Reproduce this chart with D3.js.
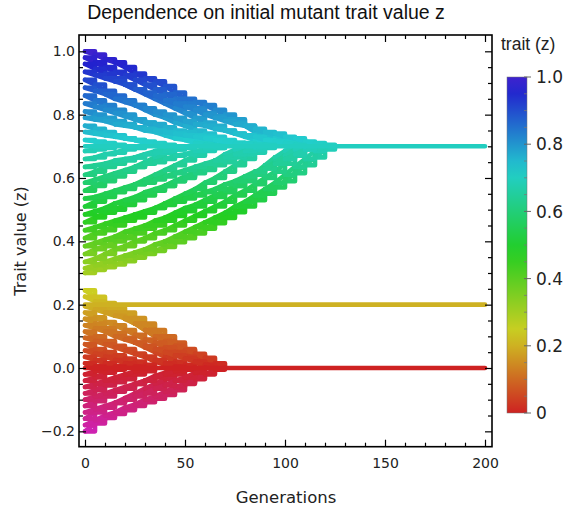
<!DOCTYPE html>
<html><head><meta charset="utf-8">
<script src="https://cdn.jsdelivr.net/npm/d3@7"></script>
<style>body{margin:0;background:#fff}</style>
</head><body>
<svg id="c" width="566" height="511"></svg>
<script>
// ---------------- data ----------------
const generations = [0,5,10,15,20,25,30,35,40,45,50,55,60,65,70,75,80,85,90,95,100,105,110,115,120,125];

// trajectories converging down onto 0.7
const upperTracks = [
 [1.00,0.99,0.975,0.965,0.95,0.93,0.915,0.905,0.89,0.87,0.85,0.84,0.83,0.815,0.80,0.785,0.765,0.745,0.725,0.71,0.70],
 [0.98,0.965,0.95,0.935,0.925,0.91,0.895,0.88,0.865,0.85,0.835,0.82,0.805,0.795,0.785,0.775,0.765,0.75,0.74,0.73,0.72,0.71,0.70],
 [0.96,0.945,0.93,0.915,0.895,0.88,0.865,0.85,0.835,0.82,0.805,0.79,0.775,0.765,0.75,0.74,0.73,0.72,0.71,0.70],
 [0.935,0.925,0.915,0.905,0.895,0.88,0.87,0.86,0.845,0.835,0.825,0.815,0.80,0.79,0.78,0.77,0.765,0.755,0.745,0.74,0.73,0.725,0.715,0.71,0.705,0.70],
 [0.91,0.895,0.875,0.86,0.845,0.83,0.815,0.80,0.79,0.775,0.765,0.75,0.74,0.73,0.72,0.71,0.705,0.70],
 [0.885,0.875,0.865,0.85,0.84,0.83,0.82,0.81,0.80,0.79,0.78,0.77,0.765,0.755,0.75,0.74,0.735,0.73,0.72,0.715,0.71,0.705,0.70],
 [0.86,0.845,0.83,0.815,0.80,0.785,0.775,0.76,0.75,0.74,0.73,0.72,0.71,0.705,0.70],
 [0.835,0.825,0.815,0.805,0.795,0.785,0.775,0.77,0.76,0.75,0.745,0.735,0.73,0.72,0.715,0.71,0.705,0.70],
 [0.81,0.80,0.79,0.78,0.77,0.76,0.75,0.745,0.735,0.725,0.72,0.71,0.705,0.70],
 [0.79,0.785,0.78,0.77,0.765,0.76,0.755,0.75,0.745,0.74,0.735,0.73,0.725,0.72,0.715,0.71,0.71,0.705,0.705,0.70],
 [0.765,0.755,0.745,0.735,0.725,0.72,0.71,0.705,0.70],
 [0.745,0.74,0.735,0.73,0.725,0.72,0.715,0.71,0.705,0.70,0.70],
 [0.72,0.715,0.71,0.705,0.70,0.70]
];

// trajectories rising onto 0.7
const middleTracks = [
 [0.30,0.31,0.318,0.327,0.337,0.348,0.36,0.37,0.382,0.397,0.41,0.425,0.44,0.457,0.474,0.492,0.51,0.53,0.55,0.57,0.59,0.615,0.64,0.665,0.69,0.70],
 [0.315,0.325,0.335,0.345,0.355,0.365,0.375,0.39,0.40,0.415,0.43,0.445,0.46,0.475,0.49,0.51,0.525,0.545,0.565,0.585,0.61,0.635,0.66,0.685,0.70],
 [0.335,0.345,0.36,0.375,0.385,0.40,0.41,0.425,0.435,0.45,0.465,0.48,0.495,0.51,0.525,0.545,0.56,0.58,0.60,0.62,0.645,0.67,0.69,0.70],
 [0.36,0.375,0.385,0.40,0.41,0.425,0.44,0.45,0.465,0.48,0.495,0.51,0.525,0.54,0.555,0.575,0.595,0.615,0.64,0.665,0.685,0.70],
 [0.385,0.395,0.405,0.415,0.43,0.44,0.45,0.465,0.475,0.49,0.505,0.515,0.53,0.545,0.56,0.575,0.59,0.61,0.63,0.65,0.67,0.69,0.70],
 [0.41,0.425,0.435,0.45,0.465,0.475,0.49,0.505,0.52,0.535,0.55,0.565,0.585,0.60,0.62,0.64,0.66,0.68,0.695,0.70],
 [0.435,0.445,0.455,0.465,0.475,0.485,0.495,0.505,0.515,0.525,0.535,0.545,0.555,0.565,0.58,0.59,0.605,0.62,0.63,0.645,0.66,0.675,0.69,0.70],
 [0.46,0.475,0.49,0.50,0.515,0.53,0.545,0.56,0.575,0.59,0.605,0.62,0.64,0.655,0.675,0.69,0.70],
 [0.485,0.495,0.505,0.52,0.53,0.54,0.555,0.565,0.575,0.59,0.60,0.615,0.625,0.64,0.65,0.665,0.675,0.69,0.70],
 [0.51,0.525,0.54,0.555,0.565,0.58,0.595,0.61,0.625,0.64,0.655,0.67,0.685,0.695,0.70],
 [0.535,0.54,0.55,0.56,0.57,0.58,0.585,0.595,0.605,0.615,0.625,0.635,0.645,0.655,0.665,0.675,0.685,0.695,0.70],
 [0.56,0.575,0.59,0.605,0.62,0.635,0.65,0.665,0.68,0.69,0.70],
 [0.585,0.595,0.605,0.615,0.625,0.635,0.645,0.65,0.66,0.67,0.675,0.685,0.69,0.695,0.70],
 [0.61,0.62,0.635,0.645,0.655,0.665,0.675,0.685,0.695,0.70],
 [0.635,0.64,0.645,0.655,0.66,0.665,0.675,0.68,0.685,0.69,0.695,0.70],
 [0.66,0.665,0.675,0.68,0.69,0.695,0.70],
 [0.685,0.69,0.695,0.70]
];

// trajectories falling onto 0
const lowerTracks = [
 [0.245,0.225,0.205,0.19,0.175,0.158,0.14,0.12,0.10,0.08,0.06,0.04,0.02,0.005,0.0],
 [0.225,0.21,0.19,0.175,0.155,0.14,0.12,0.10,0.085,0.065,0.045,0.03,0.015,0.0],
 [0.195,0.185,0.175,0.165,0.158,0.14,0.12,0.10,0.085,0.07,0.057,0.045,0.032,0.015,0.0],
 [0.175,0.16,0.145,0.135,0.12,0.105,0.09,0.08,0.065,0.05,0.035,0.02,0.0],
 [0.155,0.14,0.125,0.11,0.095,0.08,0.065,0.05,0.035,0.02,0.01,0.0],
 [0.135,0.125,0.115,0.10,0.09,0.08,0.07,0.06,0.05,0.04,0.03,0.02,0.01,0.0],
 [0.115,0.10,0.085,0.07,0.06,0.045,0.035,0.02,0.01,0.0],
 [0.095,0.085,0.075,0.065,0.055,0.045,0.035,0.025,0.015,0.005,0.0],
 [0.075,0.06,0.05,0.04,0.03,0.02,0.01,0.0],
 [0.055,0.045,0.035,0.025,0.015,0.005,0.0],
 [0.035,0.025,0.015,0.005,0.0],
 [0.015,0.005,0.0]
];

// trajectories rising onto 0 from negative values
const negativeTracks = [
 [-0.20,-0.175,-0.158,-0.145,-0.133,-0.12,-0.108,-0.097,-0.085,-0.07,-0.045,-0.02,0.0],
 [-0.18,-0.165,-0.15,-0.14,-0.125,-0.115,-0.10,-0.09,-0.075,-0.06,-0.05,-0.035,-0.02,-0.005,0.0],
 [-0.16,-0.14,-0.125,-0.11,-0.095,-0.08,-0.065,-0.05,-0.035,-0.02,-0.005,0.0],
 [-0.14,-0.13,-0.12,-0.11,-0.10,-0.09,-0.08,-0.065,-0.055,-0.04,-0.03,-0.015,0.0],
 [-0.12,-0.105,-0.09,-0.075,-0.065,-0.05,-0.04,-0.025,-0.015,0.0],
 [-0.10,-0.09,-0.08,-0.07,-0.06,-0.05,-0.04,-0.03,-0.02,-0.01,0.0],
 [-0.08,-0.07,-0.055,-0.045,-0.035,-0.02,-0.01,0.0],
 [-0.06,-0.05,-0.04,-0.03,-0.02,-0.01,0.0],
 [-0.04,-0.03,-0.015,-0.005,0.0],
 [-0.02,-0.01,0.0]
];

// steady states (held for all generations)
const steadyStates = [0.0, 0.2, 0.7];
const steadyRange = [0, 200];

const xTicks = [0,50,100,150,200];
const xMinorTicks = [10,20,30,40,60,70,80,90,110,120,130,140,160,170,180,190];
const yTicks = [-0.2,0,0.2,0.4,0.6,0.8,1.0];
const yMinorTicks = [-0.15,-0.1,-0.05,0.05,0.1,0.15,0.25,0.3,0.35,0.45,0.5,0.55,0.65,0.7,0.75,0.85,0.9,0.95];
const legendTicks = [0,0.2,0.4,0.6,0.8,1.0];
const legendLabels = ["0","0.2","0.4","0.6","0.8","1.0"];
const legendMinor = [0.05,0.1,0.15,0.25,0.3,0.35,0.45,0.5,0.55,0.65,0.7,0.75,0.85,0.9,0.95];

// ---------------- drawing ----------------
const svg = d3.select('#c');
const x = d3.scaleLinear().domain([-3, 203.5]).range([79, 492]);
const y = d3.scaleLinear().domain([-0.2485, 1.0515]).range([446.7, 35]);
const hue = d3.scaleLinear().domain([0, 1]).range([0, 250]);
const color = z => { let h = hue(z); if (h < 0) h += 360; return d3.hsl(h, 0.72, 0.47).formatHex(); };

const stepLine = d3.line().x(d => x(d[0])).y(d => y(d[1])).curve(d3.curveStepAfter);
const diagLine = d3.line().x(d => x(d[0])).y(d => y(d[1])).curve(d3.curveLinear);
const marks = svg.append('g')
  .attr('fill','none').attr('stroke-width',4.6)
  .attr('stroke-linecap','round').attr('stroke-linejoin','round');

function drawTrack(tr){
  for (let i = 0; i < tr.length - 1; i++){
    const seg = [[generations[i], tr[i]], [generations[i+1], tr[i+1]]];
    const c = color(tr[i]);
    marks.append('path').attr('d', stepLine(seg)).attr('stroke', c);
    marks.append('path').attr('d', diagLine(seg)).attr('stroke', c);
  }
}
middleTracks.forEach(drawTrack);
upperTracks.forEach(drawTrack);
lowerTracks.forEach(drawTrack);
negativeTracks.forEach(drawTrack);
steadyStates.forEach(s => {
  marks.append('path')
    .attr('d', d3.line().x(d => x(d)).y(() => y(s))(steadyRange))
    .attr('stroke', color(s));
});

// axes (ticks inward on all sides)
const fontTick = "'DejaVu Sans', sans-serif";
function styleAxis(g, withLabels){
  g.select('.domain').remove();
  g.selectAll('.tick line').attr('stroke','#000').attr('stroke-width',1.2);
  g.selectAll('.tick text').attr('font-family',fontTick).attr('font-size',14).attr('fill','#222');
  if (!withLabels) g.selectAll('.tick text').remove();
}
const X0 = 79, X1 = 492, Y0 = 35, Y1 = 446.7;
svg.append('g').attr('transform',`translate(${X0},0)`)
  .call(d3.axisLeft(y).tickValues(yTicks).tickSize(-7).tickPadding(4).tickFormat(d3.format('.1f')))
  .call(g => styleAxis(g, true));
svg.append('g').attr('transform',`translate(${X0},0)`)
  .call(d3.axisLeft(y).tickValues(yMinorTicks).tickSize(-4))
  .call(g => styleAxis(g, false));
svg.append('g').attr('transform',`translate(${X1},0)`)
  .call(d3.axisRight(y).tickValues(yTicks).tickSize(-7))
  .call(g => styleAxis(g, false));
svg.append('g').attr('transform',`translate(${X1},0)`)
  .call(d3.axisRight(y).tickValues(yMinorTicks).tickSize(-4))
  .call(g => styleAxis(g, false));
svg.append('g').attr('transform',`translate(0,${Y1})`)
  .call(d3.axisBottom(x).tickValues(xTicks).tickSize(-7).tickPadding(11).tickFormat(d3.format('d')))
  .call(g => styleAxis(g, true));
svg.append('g').attr('transform',`translate(0,${Y1})`)
  .call(d3.axisBottom(x).tickValues(xMinorTicks).tickSize(-4))
  .call(g => styleAxis(g, false));
svg.append('g').attr('transform',`translate(0,${Y0})`)
  .call(d3.axisTop(x).tickValues(xTicks).tickSize(-7))
  .call(g => styleAxis(g, false));
svg.append('g').attr('transform',`translate(0,${Y0})`)
  .call(d3.axisTop(x).tickValues(xMinorTicks).tickSize(-4))
  .call(g => styleAxis(g, false));

svg.append('rect').attr('x',X0).attr('y',Y0).attr('width',X1-X0).attr('height',Y1-Y0)
  .attr('fill','none').attr('stroke','#000').attr('stroke-width',1.6);

// titles
svg.append('text').attr('x',266).attr('y',19).attr('text-anchor','middle')
  .attr('font-family',"'Liberation Sans', Arial, sans-serif").attr('font-size',19.5).attr('fill','#111')
  .text('Dependence on initial mutant trait value z');
svg.append('text').attr('transform','translate(26,241) rotate(-90)').attr('text-anchor','middle')
  .attr('font-family',fontTick).attr('font-size',16).attr('fill','#222')
  .text('Trait value (z)');
svg.append('text').attr('x',286).attr('y',503).attr('text-anchor','middle')
  .attr('font-family',fontTick).attr('font-size',16.5).attr('fill','#222')
  .text('Generations');

// colour bar legend
const ly = d3.scaleLinear().domain([0,1]).range([413, 77]);
const defs = svg.append('defs');
const grad = defs.append('linearGradient').attr('id','cb').attr('x1',0).attr('y1',1).attr('x2',0).attr('y2',0);
d3.range(0, 1.0001, 0.05).forEach(v => grad.append('stop').attr('offset', v).attr('stop-color', color(v)));
svg.append('rect').attr('x',507).attr('y',ly(1)).attr('width',20).attr('height',ly(0)-ly(1))
  .attr('fill','url(#cb)').attr('stroke','#777').attr('stroke-width',0.5);
const lg = svg.append('g');
lg.selectAll('line.maj').data(legendTicks).join('line')
  .attr('x1',524).attr('x2',531).attr('y1',d=>ly(d)).attr('y2',d=>ly(d)).attr('stroke','#666').attr('stroke-width',1);
lg.selectAll('line.min').data(legendMinor).join('line').attr('class','min')
  .attr('x1',524).attr('x2',527).attr('y1',d=>ly(d)).attr('y2',d=>ly(d)).attr('stroke','#777').attr('stroke-width',0.8);
lg.selectAll('text').data(legendTicks).join('text')
  .attr('x',536).attr('y',d=>ly(d)).attr('dy','0.36em')
  .attr('font-family',fontTick).attr('font-size',17).attr('fill','#222')
  .text((d,i)=>legendLabels[i]);
svg.append('text').attr('x',501).attr('y',50)
  .attr('font-family',"'Liberation Sans', Arial, sans-serif").attr('font-size',17.5).attr('fill','#222')
  .text('trait (z)');
</script>
</body></html>
